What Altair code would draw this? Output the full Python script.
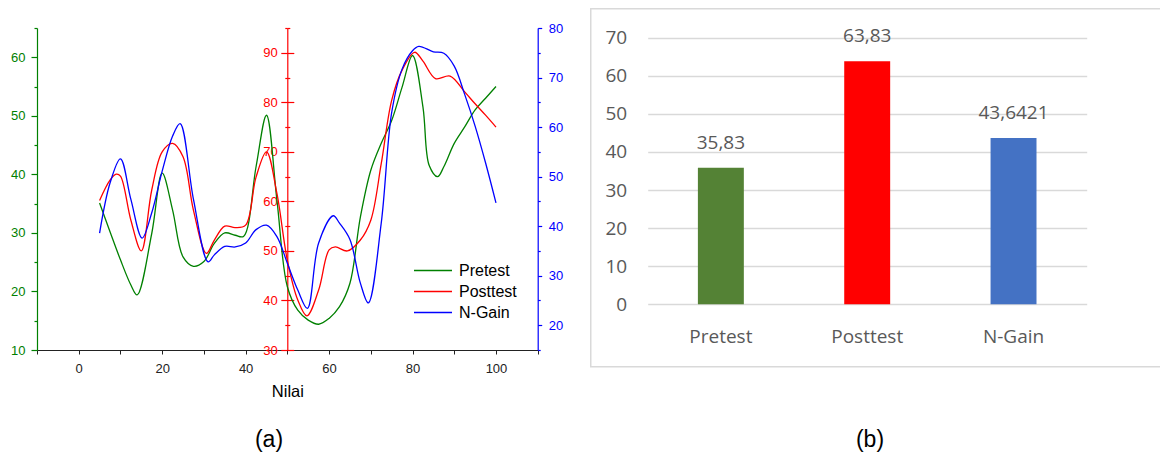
import altair as alt
import pandas as pd

# ---------------- data ----------------
pre_x = [5, 7.5, 10, 12.5, 14, 17.5, 20, 22.5, 25, 27.5, 30, 32.5, 35, 37.5, 39.5, 42.5, 45, 47.5,
         50, 52.5, 55, 57.5, 60, 62.5, 65, 67.5, 70, 72.5, 75, 77.5, 80, 82.5, 84, 86, 87.5, 90,
         92.5, 95, 97.5, 100]
pre_y = [35.1, 30.2, 25.4, 21.1, 19.4, 29.9, 40.2, 33.9, 25.9, 24.3, 25.1, 28.2, 30.0, 29.6, 29.4,
         41.3, 50.1, 35.6, 20.8, 16.8, 15.1, 14.4, 15.4, 17.4, 21.4, 32.7, 40.7, 45.3, 49.2, 54.9,
         60.3, 51.5, 41.5, 39.6, 41.3, 45.3, 48.1, 51.0, 53.0, 55.0]

post_x = [5, 7.5, 9, 10, 12.5, 15, 17.5, 20, 22.5, 25, 27.5, 30.6, 32.5, 35, 37.5, 40, 42.5, 45,
          47.5, 50, 52.5, 54.7, 57.5, 60, 61.5, 64.4, 67.5, 70, 72.5, 75, 77.5, 80.5, 82.5, 85.5,
          89, 92.5, 95, 97.5, 100]
post_y = [60.2, 64.3, 65.5, 65.1, 56.2, 50.0, 62.3, 70.0, 71.7, 69.0, 58.2, 49.5, 52.2, 55.0, 54.7,
          55.2, 64.9, 70.0, 61.6, 48.1, 40.1, 36.9, 42.1, 50.2, 50.8, 50.0, 52.2, 56.2, 67.6, 80.4,
          86.5, 90.1, 88.3, 84.8, 85.3, 82.1, 79.7, 77.4, 75.0]

ng_x = [5, 7.5, 10, 12.5, 15.2, 17.5, 20, 22.5, 24.3, 27.5, 31, 32.5, 35, 37.5, 40, 42.5, 45, 47.5,
        50, 52.5, 54.8, 57.5, 61, 62.5, 65, 67.5, 69.4, 72.5, 75, 77.5, 80, 81.5, 85, 87.5, 90,
        92.5, 95, 97.5, 100]
ng_y = [38.6, 48.7, 53.6, 45.4, 37.6, 42.7, 51.1, 58.2, 60.7, 45.4, 32.8, 34.2, 35.9, 35.8, 36.6,
        39.3, 40.2, 37.9, 32.5, 27.1, 23.4, 36.6, 42.1, 40.6, 37.3, 28.5, 24.5, 40.6, 62.9, 71.7,
        75.4, 76.3, 75.2, 74.9, 72.3, 66.6, 60.2, 52.8, 44.7]

series_names = ["Pretest", "Posttest", "N-Gain"]
line_colors = ["#008000", "#FF0000", "#0000FF"]

x_ticks = list(range(-10, 111, 10))
green_major = [10, 20, 30, 40, 50, 60]
green_minor = [15, 25, 35, 45, 55, 65]
red_major = [30, 40, 50, 60, 70, 80, 90]
red_minor = [35, 45, 55, 65, 75, 85, 95]
blue_major = [20, 30, 40, 50, 60, 70, 80]
blue_minor = [15, 25, 35, 45, 55, 65, 75]

bar_categories = ["Pretest", "Posttest", "N-Gain"]
bar_values = [35.83, 63.83, 43.6421]
bar_labels = ["35,83", "63,83", "43,6421"]
bar_colors = ["#548235", "#FF0000", "#4472C4"]
bar_ticks = [0, 10, 20, 30, 40, 50, 60, 70]

panel_labels = ["(a)", "(b)"]

# ---------------- layout ----------------
W, H = 1152, 446
LX0, LX1 = 29, 529.7          # left panel x range (svg px)
LY0, LY1 = 342, 20            # left panel y range
RED_POS = 279.3
BX0, BX1 = 639.7, 1078.7      # bar panel x range
BY0, BY1 = 296.3, 29.7        # bar panel y range

ARIAL = "Liberation Sans"
CAL = "Open Sans"
GREY = "#595959"

xscale = alt.Scale(domain=[-10, 110], range=[LX0, LX1], nice=False, zero=False)
gscale = alt.Scale(domain=[10, 65], range=[LY0, LY1], nice=False, zero=False)
rscale = alt.Scale(domain=[30, 95], range=[LY0, LY1], nice=False, zero=False)
bscale = alt.Scale(domain=[15, 80], range=[LY0, LY1], nice=False, zero=False)
cscale = alt.Scale(domain=series_names, range=line_colors)

legend = alt.Legend(title=None, orient="none", legendX=405, legendY=252, symbolType="stroke",
                    symbolSize=1444, symbolStrokeWidth=1.3, labelFont=ARIAL, labelFontSize=16,
                    labelColor="#000000", labelOffset=6, clipHeight=21, rowPadding=0, padding=0)

pre_df = pd.DataFrame({"x": pre_x, "y": pre_y, "s": series_names[0]})
post_df = pd.DataFrame({"x": post_x, "y": post_y, "s": series_names[1]})
ng_df = pd.DataFrame({"x": ng_x, "y": ng_y, "s": series_names[2]})


def yaxis(orient, pos, values, color, tick, labels=True, domain=True, pad=4):
    off = -pos if orient == "left" else pos - W
    return alt.Axis(orient=orient, offset=off, values=values, tickSize=tick, tickColor=color,
                    domain=domain, domainColor=color, labels=labels, labelColor=color,
                    labelFont=ARIAL, labelFontSize=13, labelPadding=pad, grid=False,
                    title=None, labelOverlap=False, labelFlush=False, tickWidth=1.2,
                    domainWidth=1.2)


xaxis_main = alt.Axis(orient="bottom", offset=LY0 - H, values=x_ticks,
                      labelExpr="datum.value % 20 == 0 ? datum.label : ''",
                      tickSize=4, tickColor="#222222", domainColor="#222222", domainWidth=1.2,
                      labelColor="#222222", labelFont=ARIAL, labelFontSize=13, labelPadding=8,
                      labelOverlap=False, labelFlush=False, grid=False,
                      title="Nilai", titleFont=ARIAL, titleFontSize=16.5, titleFontWeight="normal",
                      titleColor="#000000", titlePadding=8)


def line_layer(df, yscale, yax, visible=True, main_x=False):
    mark = alt.Chart(df).mark_line(interpolate="catmull-rom", strokeWidth=1.3,
                                   strokeOpacity=1 if visible else 0)
    enc = dict(
        x=alt.X("x:Q", scale=xscale, axis=xaxis_main if main_x else None),
        y=alt.Y("y:Q", scale=yscale, axis=yax),
    )
    if visible:
        enc["color"] = alt.Color("s:N", scale=cscale, legend=legend)
    return mark.encode(**enc)


GREEN, RED, BLUE = line_colors

green = line_layer(pre_df, gscale, yaxis("left", LX0, green_major, GREEN, 6, pad=6), main_x=True)
green_min = line_layer(pre_df, gscale, yaxis("left", LX0, green_minor, GREEN, 3, labels=False,
                                             domain=False), visible=False)
red = line_layer(post_df, rscale, yaxis("left", RED_POS, red_major, RED, 6.5, pad=3.5))
red_r = line_layer(post_df, rscale, yaxis("right", RED_POS, red_major, RED, 6.5, labels=False,
                                          domain=False), visible=False)
red_min = line_layer(post_df, rscale, yaxis("left", RED_POS, red_minor, RED, 2.5, labels=False,
                                            domain=False), visible=False)
red_min_r = line_layer(post_df, rscale, yaxis("right", RED_POS, red_minor, RED, 2.5, labels=False,
                                              domain=False), visible=False)
blue = line_layer(ng_df, bscale, yaxis("right", LX1, blue_major, BLUE, 4, pad=6.6))
blue_min = line_layer(ng_df, bscale, yaxis("right", LX1, blue_minor, BLUE, 2.5, labels=False,
                                           domain=False), visible=False)

# ---------------- bar panel ----------------
bar_df = pd.DataFrame({"cat": bar_categories, "val": bar_values, "lab": bar_labels})
band = alt.Scale(domain=bar_categories, range=[BX0, BX1], paddingInner=0.686, paddingOuter=0.343)
bar_y = alt.Scale(domain=[0, 70], range=[BY0, BY1], nice=False, zero=False)
fscale = alt.Scale(domain=bar_categories, range=bar_colors)

frame = alt.Chart(pd.DataFrame({"k": [0]})).mark_rect(
    fill="transparent", stroke="#D9D9D9", strokeWidth=1.5
).encode(x=alt.value(582.75), x2=alt.value(1180), y=alt.value(0.75), y2=alt.value(358.7))

bars = alt.Chart(bar_df).mark_bar().encode(
    x=alt.X("cat:N", sort=bar_categories, scale=band,
            axis=alt.Axis(orient="bottom", offset=BY0 - H, ticks=False, domain=False,
                          labelPadding=23, labelAngle=0, labelFont=CAL, labelFontSize=19,
                          labelColor=GREY, title=None)),
    y=alt.Y("val:Q", scale=bar_y,
            axis=alt.Axis(orient="left", offset=-BX0, values=bar_ticks, grid=True,
                          gridColor="#D9D9D9", gridWidth=1.3, domain=False, ticks=False,
                          labelPadding=21, labelFont=CAL, labelFontSize=19, labelColor=GREY,
                          title=None, labelOverlap=False, labelFlush=False)),
    fill=alt.Fill("cat:N", scale=fscale, legend=None),
)

bar_text = alt.Chart(bar_df).mark_text(
    font=CAL, fontSize=19, color=GREY, baseline="middle", dy=-25
).encode(
    x=alt.X("cat:N", sort=bar_categories, scale=band, axis=None),
    y=alt.Y("val:Q", scale=bar_y, axis=None),
    text="lab:N",
)

lab_a = alt.Chart(pd.DataFrame({"t": [panel_labels[0]]})).mark_text(
    font=ARIAL, fontSize=23, color="#000000", baseline="alphabetic"
).encode(x=alt.value(261), y=alt.value(439), text="t:N")
lab_b = alt.Chart(pd.DataFrame({"t": [panel_labels[1]]})).mark_text(
    font=ARIAL, fontSize=23, color="#000000", baseline="alphabetic"
).encode(x=alt.value(862), y=alt.value(439), text="t:N")

chart = alt.layer(
    frame, bars, bar_text,
    green_min, red_min, red_min_r, red_r, blue_min,
    green, red, blue,
    lab_a, lab_b,
).resolve_scale(
    x="independent", y="independent", color="shared", fill="independent"
).resolve_axis(
    x="independent", y="independent"
).properties(
    width=W, height=H, padding=0, autosize=alt.AutoSizeParams(type="none")
).configure_view(stroke=None)

chart.save("out.html", embed_options={"renderer": "svg", "actions": False})
